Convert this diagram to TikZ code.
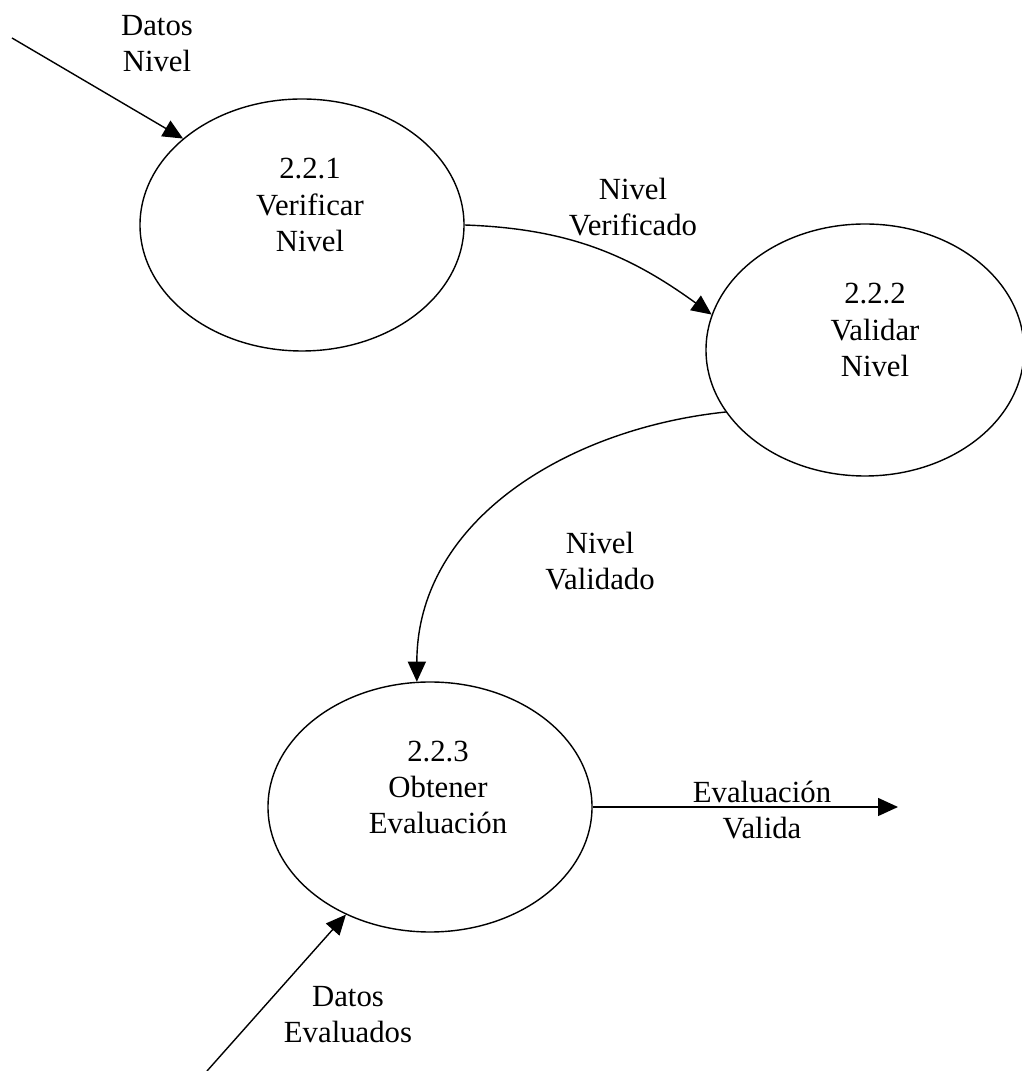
\documentclass[tikz,border=0pt]{standalone}
\usepackage{fontspec}
\setmainfont{Liberation Serif}
\usetikzlibrary{shapes.geometric,arrows.meta}

\begin{document}
\begin{tikzpicture}[
  >={Triangle[length=0.4cm,width=0.36cm]},
  line width=0.8pt,
  proc/.style={draw,ellipse,minimum width=6.48cm,minimum height=5.04cm,inner sep=0pt},
  txt/.style={align=center,font=\fontsize{17.5}{20.5}\selectfont,inner sep=0pt}
]
\useasboundingbox (0,0) rectangle (20.44,21.42);

% processes:
\node[proc] (p1) at (6.04,16.92) {};
\node[txt] (t1) at (6.2,17.32) {2.2.1\\Verificar\\Nivel};

\node[proc,minimum width=6.36cm] (p2) at (17.3,14.42) {};
\node[txt] (t2) at (17.5,14.82) {2.2.2\\Validar\\Nivel};

\node[proc,minimum height=5cm] (p3) at (8.6,5.28) {};
\node[txt] (t3) at (8.76,5.68) {2.2.3\\Obtener\\Evaluación};

% free ends:
\coordinate (din) at (0.24,20.66);
\coordinate (dout) at (17.96,5.28);
\coordinate (dev) at (4.14,0);

% flows:
\draw[->] (din) -- (p1.144);
\draw[->] (p1.east) to[out=-2,in=144] (p2.167);
\draw[->] (p2.204) to[out=186,in=90] (p3.96);
\draw[->] (p3.east) -- (dout);
\draw[->] (dev) -- (p3.232);

% flow labels:
\node[txt] (l1) at (3.14,20.55) {Datos\\Nivel};
\node[txt] (l2) at (12.66,17.28) {Nivel\\Verificado};
\node[txt] (l3) at (12.0,10.2) {Nivel\\Validado};
\node[txt] (l4) at (15.24,5.22) {Evaluación\\Valida};
\node[txt] (l5) at (6.96,1.12) {Datos\\Evaluados};

\end{tikzpicture}
\end{document}
